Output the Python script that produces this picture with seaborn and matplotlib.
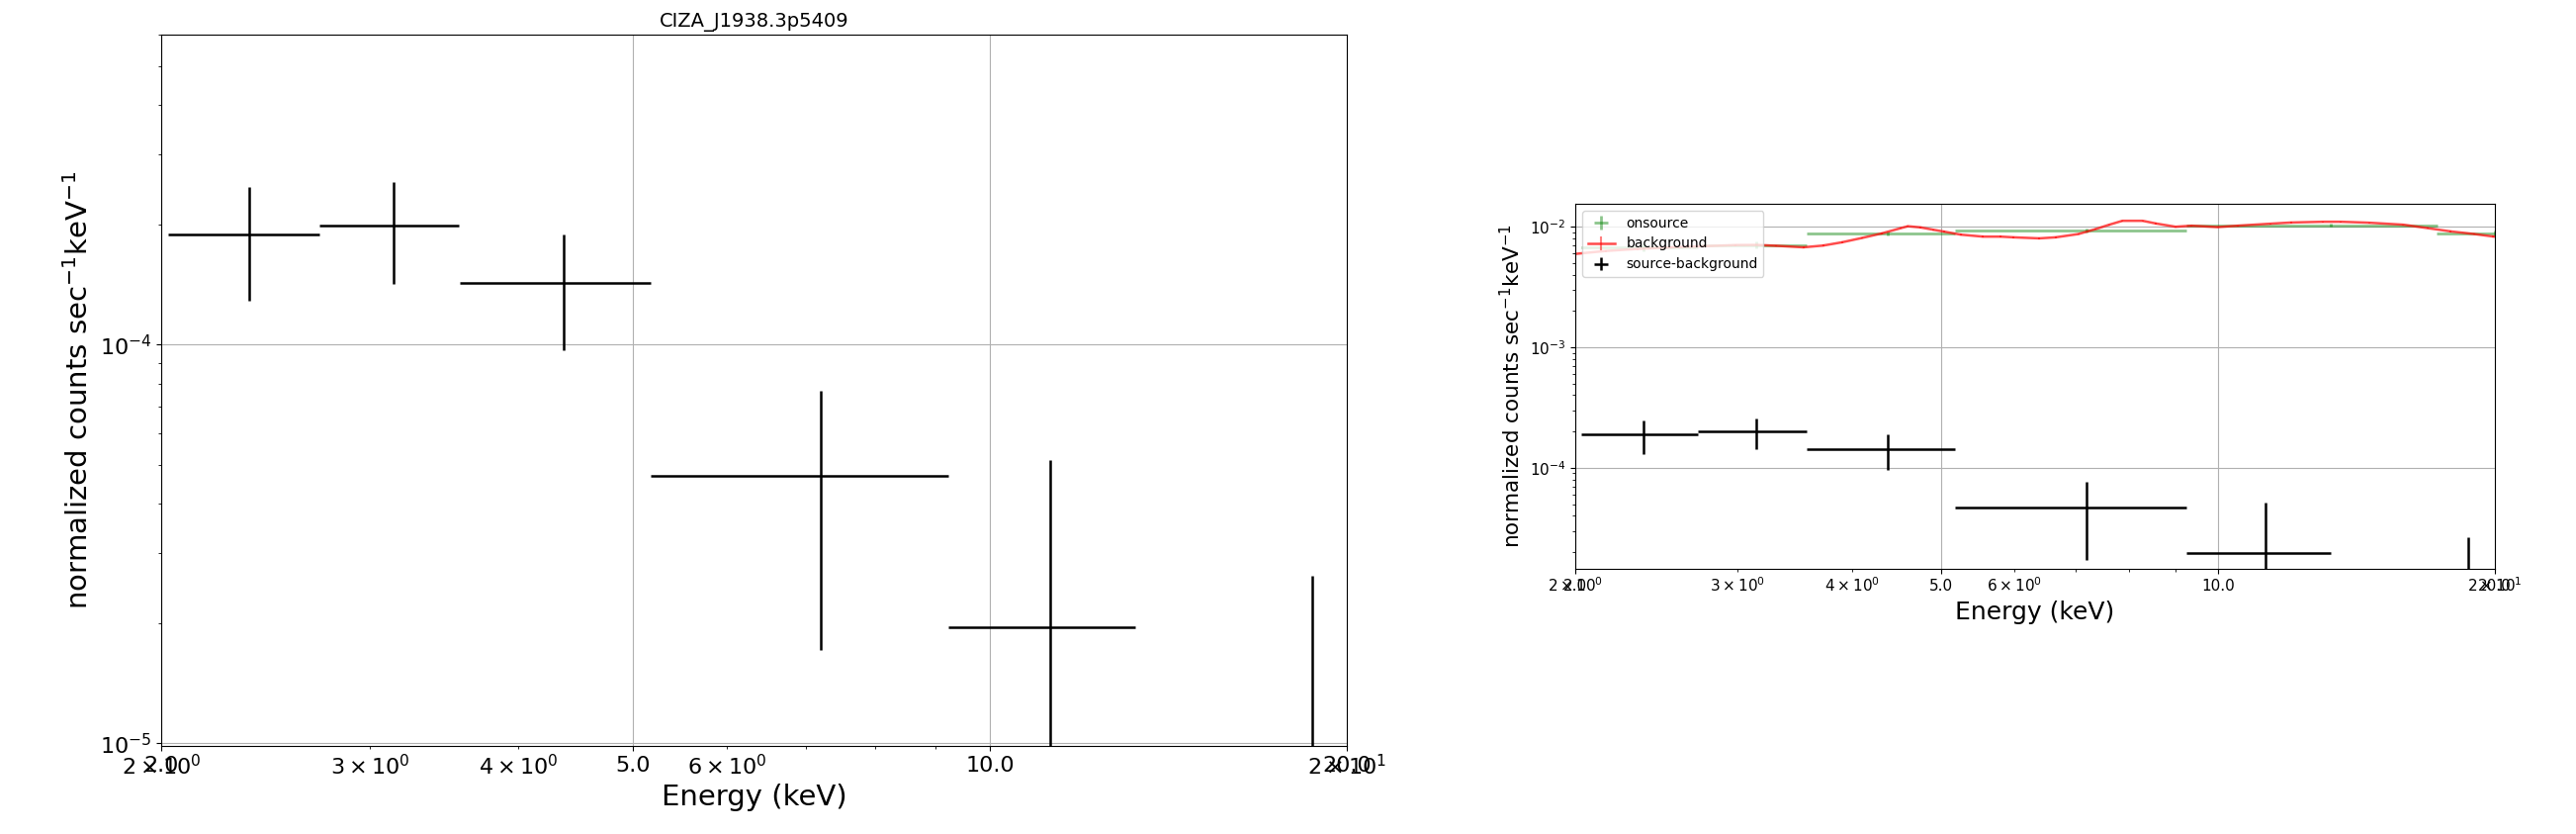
import matplotlib
matplotlib.use("Agg")
import numpy as np
import matplotlib.pyplot as plt
import seaborn as sns
from matplotlib.ticker import FormatStrFormatter

# ─────────────────────────────────────────────
# DATA
# ─────────────────────────────────────────────
SOURCE_NAME = "CIZA_J1938.3p5409"

# source - background (black crosses)
SRC_ENERGY = [2.373, 3.143, 4.37, 7.2, 11.25, 18.7]
SRC_EHALF = [0.345, 0.425, 0.80, 2.03, 2.02, 5.4]
SRC_RATE = [1.888e-4, 1.99e-4, 1.428e-4, 4.69e-5, 1.96e-5, 2.0e-6]
SRC_ERR = [0.60e-4, 0.57e-4, 0.46e-4, 2.98e-5, 3.17e-5, 2.44e-5]

# onsource (green crosses)
ON_ENERGY = [2.375, 3.145, 4.37, 7.2, 13.27, 20.0]
ON_EHALF = [0.345, 0.425, 0.80, 2.03, 4.04, 2.7]
ON_RATE = [6.76e-3, 7.07e-3, 8.81e-3, 9.33e-3, 1.03e-2, 8.81e-3]
ON_ERR = [4.5e-4, 5.0e-4, 4.0e-4, 3.5e-4, 3.0e-4, 5.0e-4]

# background (red, finely binned)
BKG_ENERGY = [1.98, 2.00, 2.16, 2.34, 2.54, 2.76, 2.99, 3.15, 3.31, 3.54,
              3.72, 3.90, 4.10, 4.31, 4.52, 4.60, 4.75, 4.90, 5.04, 5.25,
              5.55, 5.80, 5.99, 6.39, 6.66, 7.05, 7.36, 7.61, 7.87, 8.28,
              8.56, 8.99, 9.36, 9.99, 10.5, 11.4, 12.0, 13.0, 13.6, 14.6,
              15.9, 16.9, 17.9, 19.0, 19.9, 20.1]
BKG_RATE = [5.9e-3, 5.95e-3, 6.3e-3, 6.55e-3, 6.75e-3, 6.9e-3, 7.05e-3, 7.07e-3, 6.95e-3, 6.75e-3,
            6.98e-3, 7.43e-3, 8.07e-3, 8.81e-3, 9.74e-3, 1.01e-2, 9.87e-3, 9.45e-3, 9.1e-3, 8.6e-3,
            8.28e-3, 8.28e-3, 8.17e-3, 8.01e-3, 8.17e-3, 8.7e-3, 9.56e-3, 1.038e-2, 1.12e-2, 1.12e-2,
            1.064e-2, 1.0e-2, 1.02e-2, 9.93e-3, 1.02e-2, 1.06e-2, 1.084e-2, 1.10e-2, 1.10e-2, 1.08e-2,
            1.04e-2, 9.74e-3, 9.15e-3, 8.7e-3, 8.3e-3, 8.25e-3]
BKG_ERR = 1.2e-4

XTICKS = [2.0, 5.0, 10.0, 20.0]
YLABEL = r"normalized counts sec$^{-1}$keV$^{-1}$"
XLABEL = "Energy (keV)"


def style_energy_axis(ax, labelsize):
    ax.set_xscale("log")
    ax.set_yscale("log")
    ax.set_xlim(2.0, 20.0)
    ax.set_xticks(XTICKS)
    ax.xaxis.set_major_formatter(FormatStrFormatter("%.1f"))
    # keep the minor 2x10^0 / 2x10^1 labels, as in the original output
    ax.xaxis.remove_overlapping_locs = False
    ax.grid(True)
    ax.tick_params(which="both", labelsize=labelsize)


fig = plt.figure(figsize=(26.05, 8.43), dpi=100)
W, H = 2605, 843

# ─────────────────────────────────────────────
# LEFT: source - background only
# ─────────────────────────────────────────────
ax1 = fig.add_axes([163 / W, (H - 754) / H, 1199 / W, 719 / H])
style_energy_axis(ax1, 16)
ax1.errorbar(SRC_ENERGY, SRC_RATE, xerr=SRC_EHALF, yerr=SRC_ERR,
             fmt="none", ecolor="black", elinewidth=1.8)
ax1.set_ylim(9.85e-6, 6.0e-4)
ax1.set_title(SOURCE_NAME, fontsize=14)
ax1.set_xlabel(XLABEL, fontsize=21)
ax1.set_ylabel(YLABEL, fontsize=21)

# ─────────────────────────────────────────────
# RIGHT: onsource, background, source - background
# ─────────────────────────────────────────────
ax2 = fig.add_axes([1593 / W, (H - 575) / H, 930 / W, 369 / H])
style_energy_axis(ax2, 11)
on = ax2.errorbar(ON_ENERGY, ON_RATE, xerr=ON_EHALF, yerr=ON_ERR,
                  fmt="none", ecolor="green", alpha=0.45, elinewidth=2.0)
sns.lineplot(x=BKG_ENERGY, y=BKG_RATE, ax=ax2, color="red", alpha=0.7,
             linewidth=1.8, sort=False)
bkg_line = ax2.lines[-1]
bkg = ax2.errorbar(BKG_ENERGY, BKG_RATE, yerr=BKG_ERR, fmt="none",
                   ecolor="red", alpha=0.5)
src = ax2.errorbar(SRC_ENERGY, SRC_RATE, xerr=SRC_EHALF, yerr=SRC_ERR,
                   fmt="none", ecolor="black", elinewidth=1.8)
ax2.set_xlim(2.0, 20.0)
ax2.set_ylim(1.45e-5, 1.55e-2)
ax2.set_xlabel(XLABEL, fontsize=18)
ax2.set_ylabel(YLABEL, fontsize=15.5)
ax2.legend([on, (bkg_line, bkg), src],
           ["onsource", "background", "source-background"],
           loc="upper left", fontsize=10)

fig.savefig("out.png", dpi=100)
